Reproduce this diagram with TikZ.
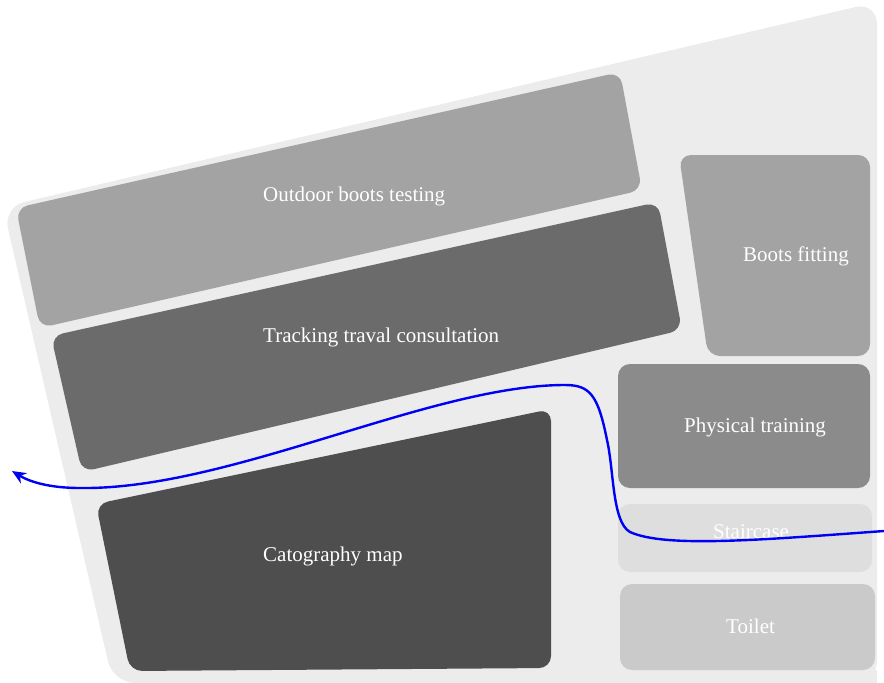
\documentclass[tikz,border=0pt]{standalone}
\usepackage{fontspec}
\setmainfont{Liberation Serif}
\usetikzlibrary{arrows.meta}
\definecolor{floorc}{HTML}{ECECEC}
\definecolor{outdoorc}{HTML}{A3A3A3}
\definecolor{trackc}{HTML}{6B6B6B}
\definecolor{mapc}{HTML}{4E4E4E}
\definecolor{bootsc}{HTML}{A3A3A3}
\definecolor{physc}{HTML}{8B8B8B}
\definecolor{stairc}{HTML}{DEDEDE}
\definecolor{toiletc}{HTML}{CBCACA}
\definecolor{routec}{HTML}{0000F5}
\tikzset{
  room/.style={rounded corners=12pt},
  lbl/.style={anchor=base west, inner sep=0pt, text=white, font=\fontsize{21}{24}\selectfont},
  route/.style={draw=routec, line width=2.4pt, -{Stealth[length=14pt,width=12pt]}}
}
\begin{document}
\begin{tikzpicture}[x=1pt,y=-1pt]
\useasboundingbox (0,0) rectangle (884,683);
% floor
\fill[floorc, rounded corners=22pt] (3,207) -- (877,2) -- (877,683) -- (113,683) -- cycle;
\fill[floorc] (300,683) rectangle (877,670);
% rooms
\fill[outdoorc, room] (16,208) -- (620,72) -- (642,190) -- (40,328) -- cycle;
\fill[trackc, room] (51,336) -- (658,202) -- (682,330) -- (82,472) -- cycle;
\fill[mapc, room] (96,504) -- (551,409) -- (551,668) -- (130,671) -- cycle;
\fill[bootsc, room] (679,155) -- (870,155) -- (870,356) -- (708,356) -- cycle;
\fill[physc, room] (618,364) rectangle (870,488);
\fill[stairc, room] (618,504) rectangle (872,572);
\fill[toiletc, room] (620,584) rectangle (875,670);
% labels
\node[lbl] (outdoor) at (263,201) {Outdoor boots testing};
\node[lbl] (track) at (263,342) {Tracking traval consultation};
\node[lbl] (map) at (263,561) {Catography map};
\node[lbl] (boots) at (743,261) {Boots fitting};
\node[lbl] (phys) at (684,432) {Physical training};
\node[lbl] (stair) at (713,538) {Staircase};
\node[lbl] (toilet) at (726,633) {Toilet};
% route
\coordinate (rstart) at (884,531);
\coordinate (rend) at (12,471);
\draw[route] (rstart) .. controls (760,540) and (665,548) .. (630,532)
  .. controls (612,522) and (614,470) .. (607,440)
  .. controls (598,395) and (590,385) .. (565,385)
  .. controls (430,385) and (230,490) .. (80,488)
  .. controls (50,488) and (30,482) .. (rend);
\end{tikzpicture}
\end{document}
